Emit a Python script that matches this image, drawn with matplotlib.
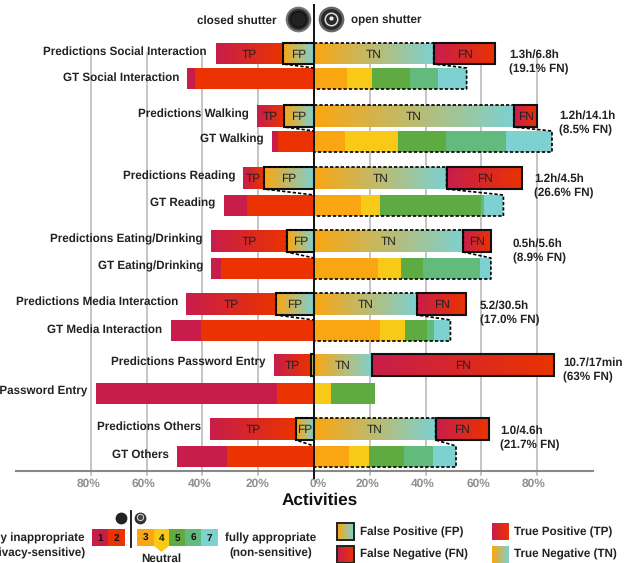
import numpy as np
import matplotlib
matplotlib.use("Agg")
import matplotlib.pyplot as plt
from matplotlib.colors import LinearSegmentedColormap
from matplotlib.patches import Polygon, Rectangle

plt.rcParams['font.family'] = ['Liberation Sans', 'DejaVu Sans']
plt.rcParams['text.hinting'] = 'no_hinting'

# predictions, percent of the activity
activities = ['Social Interaction', 'Walking', 'Reading', 'Eating/Drinking',
              'Media Interaction', 'Password Entry', 'Others']
pred_tp = [24.0, 9.7, 7.4, 27.1, 32.3, 13.2, 30.8]
pred_fp = [11.1, 10.7, 18.0, 9.8, 13.6, 1.1, 6.5]
pred_tn = [42.9, 71.6, 47.5, 53.5, 37.0, 20.8, 43.6]
pred_fn = [22.1, 8.4, 27.2, 10.1, 17.5, 65.2, 19.2]

# ground truth, percent per rating 1-7
gt_r1 = [2.9, 2.0, 8.3, 3.6, 10.8, 64.8, 17.9]
gt_r2 = [42.6, 13.0, 24.0, 33.3, 40.5, 13.3, 31.2]
gt_r3 = [11.7, 11.1, 16.8, 22.9, 23.7, 0.0, 12.5]
gt_r4 = [9.1, 19.0, 6.9, 8.3, 8.9, 6.1, 7.2]
gt_r5 = [13.6, 17.2, 36.2, 7.8, 7.9, 15.8, 12.6]
gt_r6 = [10.0, 21.5, 1.0, 20.5, 2.5, 0.0, 10.4]
gt_r7 = [10.3, 16.5, 7.0, 3.9, 5.9, 0.0, 8.2]

fn_line1 = ['1.3h/6.8h', '1.2h/14.1h', '1.2h/4.5h', '0.5h/5.6h', '5.2/30.5h', '10.7/17min', '1.0/4.6h']
fn_line2 = ['(19.1% FN)', '(8.5% FN)', '(26.6% FN)', '(8.9% FN)', '(17.0% FN)', '(63% FN)', '(21.7% FN)']

tick_values = [-80, -60, -40, -20, 0, 20, 40, 60, 80]
tick_labels = ['80%', '60%', '40%', '20%', '0%', '20%', '40%', '60%', '80%']

# layout in pixels
tick_label_x = [89, 143, 200, 257, 318, 367, 423, 478, 534]
pred_top = [43, 105, 167, 230, 293, 354, 418]
pred_bot = [64, 127, 189, 252, 315, 376, 440]
gt_top = [68, 131, 195, 258, 320, 383, 446]
gt_bot = [89, 152, 216, 279, 341, 404, 467]
pred_label_x = [207, 249, 235, 203, 178, 266, 201]
pred_label_y = [51, 114, 176, 239, 301, 362, 426]
gt_label_x = [179, 264, 215, 203, 162, 87, 169]
gt_label_y = [77, 139, 203, 266, 329, 391, 454]
note_x = [509, 559, 534, 513, 480, 563, 500]
note_y = [54, 115, 178, 243, 305, 362, 430]

colors = ['#C81D4B', '#EA3300', '#FAA612', '#F8C916', '#5EAB42', '#62BB7D', '#7DD1D0']
red_map = LinearSegmentedColormap.from_list('red_map', ['#C81D4B', '#EA3300'])
tn_map = LinearSegmentedColormap.from_list('tn_map', ['#FAA612', '#7DD1D0'])
ramp = np.linspace(0, 1, 64).reshape(1, -1)

SCALE = 2.79  # pixels per percent
ZERO = 314

fig = plt.figure(figsize=(6.31, 5.63), dpi=100)
ax = fig.add_axes([0, 0, 1, 1])
ax.axis('off')


def px(x):
    return (x - ZERO) / SCALE


def gradient(x0, x1, y0, y1, cmap, zorder=3):
    ax.imshow(ramp, extent=[x0, x1, y1, y0], aspect='auto', cmap=cmap, zorder=zorder, interpolation='bilinear')


def label(x, y, s, **kw):
    kw.setdefault('fontsize', 8.4)
    kw.setdefault('fontweight', 'bold')
    kw.setdefault('color', '#222222')
    kw.setdefault('va', 'center')
    ax.text(x, y + 0.7, s, **kw)


# grid and axis
for v in tick_values:
    if v != 0:
        ax.plot([v, v], [53, 475], color='#BBBBBB', lw=1.2, zorder=1)
ax.plot([px(16), px(593)], [471, 471], color='#888888', lw=1.5, zorder=1)
for x, t in zip(tick_label_x, tick_labels):
    label(px(x), 483, t, ha='center', color='#909090', fontsize=8.6)

for i in range(len(activities)):
    t0, b0, t1, b1 = pred_top[i], pred_bot[i], gt_top[i], gt_bot[i]
    fp = pred_fp[i]
    tp = pred_tp[i]
    tn = pred_tn[i]
    fn = pred_fn[i]

    # prediction bar
    gradient(-(fp + tp), -fp, t0, b0, red_map)
    gradient(-fp, 0, t0, b0, tn_map)
    gradient(0, tn, t0, b0, tn_map)
    gradient(tn, tn + fn, t0, b0, red_map)
    ax.add_patch(Rectangle((-fp, t0), fp, b0 - t0, fill=False, ec='#111111', lw=1.5, zorder=5))
    ax.add_patch(Rectangle((tn, t0), fn, b0 - t0, fill=False, ec='#111111', lw=1.5, zorder=5))

    # ground truth bar
    neg = [gt_r2[i], gt_r1[i]]
    left = 0
    for w, c in zip(neg, [colors[1], colors[0]]):
        ax.barh((t1 + b1) / 2, -w, left=left, height=b1 - t1, color=c, zorder=3)
        left -= w
    pos = [gt_r3[i], gt_r4[i], gt_r5[i], gt_r6[i], gt_r7[i]]
    left = 0
    for w, c in zip(pos, colors[2:]):
        ax.barh((t1 + b1) / 2, w, left=left, height=b1 - t1, color=c, zorder=3)
        left += w

    # dashed outlines between prediction and ground truth
    if activities[i] != 'Password Entry':
        ax.plot([0, tn, tn, left, left, 0], [t0, t0, b0, t1, b1, b1], color='black', lw=1.2,
                ls=(0, (2, 1.2)), zorder=6)
        ax.plot([0, -fp, -fp, 0, 0], [t0, t0, b0, t1, b1], color='black', lw=1.2,
                ls=(0, (2, 1.2)), zorder=6)

    # names on the bars
    mid = (t0 + b0) / 2 + 0.5
    label(-fp - tp / 2, mid, 'TP', ha='center', fontweight='normal', fontsize=8.6, zorder=7)
    label(tn / 2, mid, 'TN', ha='center', fontweight='normal', fontsize=8.6, zorder=7)
    label(tn + fn / 2, mid, 'FN', ha='center', fontweight='normal', fontsize=8.6, zorder=7)
    if fp > 2:
        label(-fp / 2, mid, 'FP', ha='center', fontweight='normal', fontsize=8.6, zorder=7)

    label(px(pred_label_x[i]), pred_label_y[i], 'Predictions ' + activities[i], ha='right', zorder=8)
    label(px(gt_label_x[i]), gt_label_y[i], 'GT ' + activities[i], ha='right', zorder=8)
    label(px(note_x[i]), note_y[i], fn_line1[i], ha='left', zorder=8)
    label(px(note_x[i]), note_y[i] + 15, fn_line2[i], ha='left', zorder=8)

# centre line
ax.plot([0, 0], [5, 478], color='#111111', lw=1.4, zorder=7)

# shutters on top
ax.plot(px(298), 19, 'o', ms=18.5, color='#777777', mew=0, zorder=5)
ax.plot(px(298), 19, 'o', ms=15.5, color='#333333', mew=0, zorder=6)
ax.plot(px(298), 19, 'o', ms=11.5, color='#222222', mec='#111111', mew=1, zorder=6)
ax.plot(px(331), 19, 'o', ms=18.5, color='#666666', mew=0, zorder=5)
ax.plot(px(331), 19, 'o', ms=15, color='#2A2A2A', mew=0, zorder=6)
ax.plot(px(331), 19, 'o', ms=9, color='#2A2A2A', mec='#DDDDDD', mew=1.1, zorder=6)
ax.plot(px(331), 17.5, 'o', ms=3, color='#EEEEEE', mew=0, zorder=7)
label(px(277), 20.5, 'closed shutter', ha='right')
label(px(351), 19.5, 'open shutter', ha='left')

label(px(320), 500, 'Activities', ha='center', fontsize=12.3, color='#111111')

# rating scale
scale_edges = [92, 108, 125, 137, 154, 169, 185, 201, 218]
scale_cells = [(0, 1), (1, 2), (3, 4), (4, 5), (5, 6), (6, 7), (7, 8)]
for n, (a, b) in enumerate(scale_cells):
    x0, x1 = px(scale_edges[a]), px(scale_edges[b])
    ax.add_patch(Rectangle((x0, 529), x1 - x0, 17, color=colors[n], lw=0, zorder=3))
    label((x0 + x1) / 2, 537.5, str(n + 1), ha='center', fontsize=7.2, color='#111111', zorder=5)
ax.add_patch(Polygon([(px(154), 530), (px(154), 546), (px(161.5), 552), (px(169), 546), (px(169), 530)],
                     color=colors[3], lw=0, zorder=4))
ax.plot([px(131), px(131)], [511, 547], color='#111111', lw=1.3)
ax.plot(px(120.5), 517.5, 'o', ms=8.5, color='#222222', mew=0)
ax.plot(px(140), 517.5, 'o', ms=8.5, color='#333333', mew=0)
ax.plot(px(140), 516.5, 'o', ms=4.5, color='#444444', mec='#DDDDDD', mew=0.7)
label(px(85), 538, 'fully inappropriate', ha='right')
label(px(86), 553, '(privacy-sensitive)', ha='right')
label(px(271), 538, 'fully appropriate', ha='center')
label(px(271), 553, '(non-sensitive)', ha='center')
label(px(161), 558, 'Neutral', ha='center')

# legend
gradient(px(337), px(354), 523, 540, tn_map)
ax.add_patch(Rectangle((px(337), 523), 17 / SCALE, 17, fill=False, ec='#222222', lw=1.4, zorder=5))
gradient(px(337), px(354), 546, 563, red_map)
ax.add_patch(Rectangle((px(337), 546), 17 / SCALE, 17, fill=False, ec='#222222', lw=1.4, zorder=5))
gradient(px(492), px(509), 523, 540, red_map)
gradient(px(492), px(509), 546, 563, tn_map)
label(px(360), 531.5, 'False Positive (FP)', ha='left')
label(px(360), 553.5, 'False Negative (FN)', ha='left')
label(px(514), 531.5, 'True Positive (TP)', ha='left')
label(px(514), 553.5, 'True Negative (TN)', ha='left')

ax.set_xlim(-ZERO / SCALE, (631 - ZERO) / SCALE)
ax.set_ylim(563, 0)

fig.savefig('out.png', dpi=100)
